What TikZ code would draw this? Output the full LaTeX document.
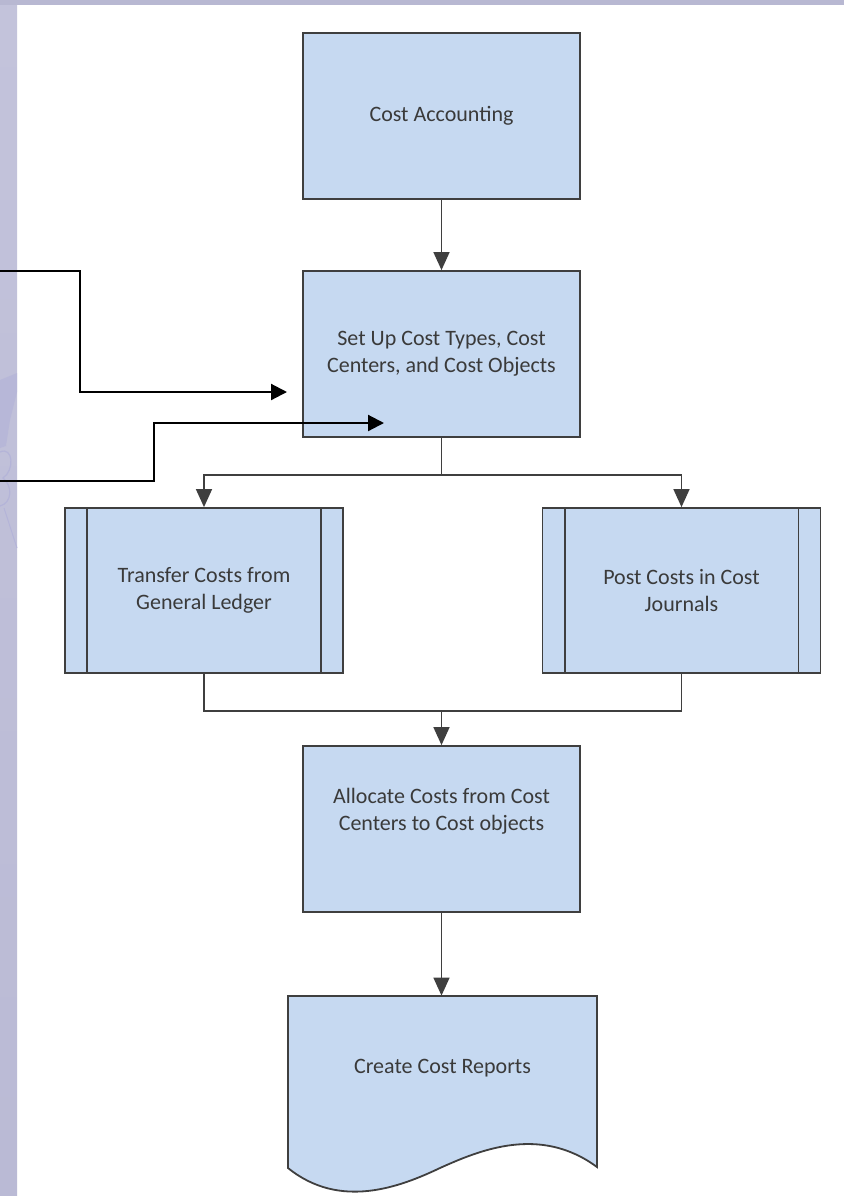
\documentclass[tikz,border=0pt]{standalone}
\usepackage{fontspec}
\setmainfont{Carlito}
\usetikzlibrary{arrows.meta}
\definecolor{boxblue}{HTML}{C6D9F1}
\definecolor{edgegrey}{HTML}{3F3F3F}
\definecolor{textgrey}{HTML}{3A3A3A}
\definecolor{slidetop}{HTML}{B8B8D2}
\definecolor{stripup}{HTML}{C3C3DB}
\definecolor{stripmid}{HTML}{DCDCDE}
\definecolor{stripdown}{HTML}{BABAD5}
\definecolor{sketchlav}{HTML}{B4B4D8}
\tikzset{
  procbox/.style={draw=edgegrey, line width=0.9pt, fill=boxblue, text=textgrey,
    minimum width=138.5pt, minimum height=83pt, align=center, inner sep=0pt},
  subbox/.style={procbox, minimum width=139pt, minimum height=82.5pt},
  flow/.style={draw=edgegrey, line width=0.75pt, -{Triangle[length=9pt,width=8pt]}},
  joinline/.style={draw=edgegrey, line width=0.75pt},
  feed/.style={draw=black, line width=1.1pt, -{Triangle[length=8pt,width=8pt]}},
}
\begin{document}
\begin{tikzpicture}[x=0.5pt, y=-0.5pt, font=\fontsize{11}{13.5}\selectfont, line join=miter]
	\useasboundingbox (0,0) rectangle (844,1196);
	\fill[white] (0,0) rectangle (844,1196);
	% slide frame
	\shade[top color=stripup, middle color=stripmid, bottom color=stripdown] (0,0) rectangle (17,1196);
	\fill[slidetop] (0,0) rectangle (844,4.5);
	\fill[sketchlav, opacity=.7] (0,380)--(17,373)--(17,392)--(10,420)--(6,446)--(0,448)--cycle;
	\draw[sketchlav, line width=0.6pt] (0,452) .. controls (13,446) and (15,470) .. (3,478) .. controls (13,486) and (12,503) .. (0,506);
	\draw[sketchlav, line width=0.5pt] (4,508)--(17,548);
	
	% the chart
	\node[procbox] (acct) at (441.5,116) {Cost Accounting};
	\node[procbox] (setup) at (441.5,354) {Set Up Cost Types, Cost\\Centers, and Cost Objects};
	\node[subbox] (transfer) at (204,590.5) {Transfer Costs from\\General Ledger};
	\node[subbox] (post) at (681.5,590.5) {Post Costs in Cost\\Journals};
	\foreach \n in {transfer,post}{
		\draw[edgegrey, line width=0.9pt] ([xshift=11.5pt]\n.north west) -- ([xshift=11.5pt]\n.south west)
			([xshift=-11.5pt]\n.north east) -- ([xshift=-11.5pt]\n.south east);}
	\node[procbox] (alloc) at (441.5,829) {\raisebox{6pt}[0pt][0pt]{\begin{tabular}{@{}c@{}}Allocate Costs from Cost\\Centers to Cost objects\end{tabular}}};
	% document shape
	\draw[edgegrey, line width=0.9pt, fill=boxblue] (288,996) -- (597,996) -- (597,1167)
		.. controls (540,1125) and (480,1150) .. (440,1168)
		.. controls (400,1187) and (340,1210) .. (288,1168) -- cycle;
	\node[text=textgrey, minimum width=154.5pt, minimum height=72pt, inner sep=0pt] (report) at (442.5,1068) {Create Cost Reports};
	
	\coordinate (split) at (441.5,475);
	\coordinate (merge) at (441.5,711);
	\draw[flow] (acct) -- (setup);
	\draw[joinline] (setup.south) -- (split);
	\draw[flow] (split) -| (transfer.north);
	\draw[flow] (split) -| (post.north);
	\draw[joinline] (transfer.south) |- (merge) -| (post.south);
	\draw[flow] (merge) -- (alloc.north);
	\draw[flow] (alloc.south) -- (alloc.south |- report.north);
	
	% incoming lines
	\coordinate (inA) at (0,271);
	\coordinate (inB) at (0,481);
	\coordinate (tipA) at (287,392);
	\coordinate (tipB) at (384,423);
	\draw[feed] (inA) -- ++(80,0) |- (tipA);
	\draw[feed] (inB) -- ++(154,0) |- (tipB);
\end{tikzpicture}
\end{document}
